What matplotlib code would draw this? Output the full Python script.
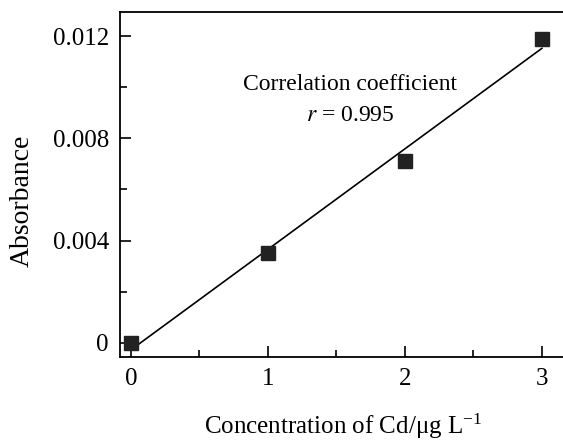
import numpy as np
import matplotlib
matplotlib.use('Agg')
import matplotlib.pyplot as plt
from matplotlib.ticker import MultipleLocator

plt.rcParams['font.family'] = ['Liberation Serif', 'DejaVu Serif']
plt.rcParams['mathtext.fontset'] = 'stix'

# calibration data
conc = [0, 1, 2, 3]
absorb = [0.0, 0.0035, 0.0071, 0.0119]

slope, icpt = np.polyfit(conc, absorb, 1)
xfit = np.array([0, 3])

fig = plt.figure(figsize=(5.63, 4.41), dpi=100)
# right spine lies outside the picture
ax = fig.add_axes([120 / 563, 1 - 357 / 441, 500 / 563, 345 / 441])

ax.plot(xfit, slope * xfit + icpt, color='black', lw=1.2, zorder=2)
ax.plot(conc, absorb, 's', color='#222222', ms=10, zorder=3)

ax.set_xlim(-0.08, 3.57)
ax.set_ylim(-0.00055, 0.01294)
ax.xaxis.set_major_locator(MultipleLocator(1))
ax.xaxis.set_minor_locator(MultipleLocator(0.5))
ax.yaxis.set_major_locator(MultipleLocator(0.004))
ax.yaxis.set_minor_locator(MultipleLocator(0.002))
ax.yaxis.set_major_formatter(plt.FuncFormatter(lambda v, p: '0' if abs(v) < 1e-9 else f'{v:.3f}'))

ax.tick_params(which='both', direction='in', labelsize=18, width=1.2)
ax.tick_params(which='major', length=8, pad=8)
ax.tick_params(which='minor', length=5)
for s in ax.spines.values():
    s.set_linewidth(1.3)

ax.set_xlabel(r'Concentration of Cd/$\mathregular{\mu}$g L$^{\mathregular{-1}}$', fontsize=18)
ax.set_ylabel('Absorbance', fontsize=20)
ax.xaxis.set_label_coords(0.446, -0.158)
ax.yaxis.set_label_coords(-0.17, 0.452)

ax.text(1.6, 0.0101, 'Correlation coefficient', fontsize=17, ha='center', va='center')
ax.text(1.6, 0.0089, r'$r$ = 0.995', fontsize=17, ha='center', va='center')

fig.savefig('out.png', dpi=100)
